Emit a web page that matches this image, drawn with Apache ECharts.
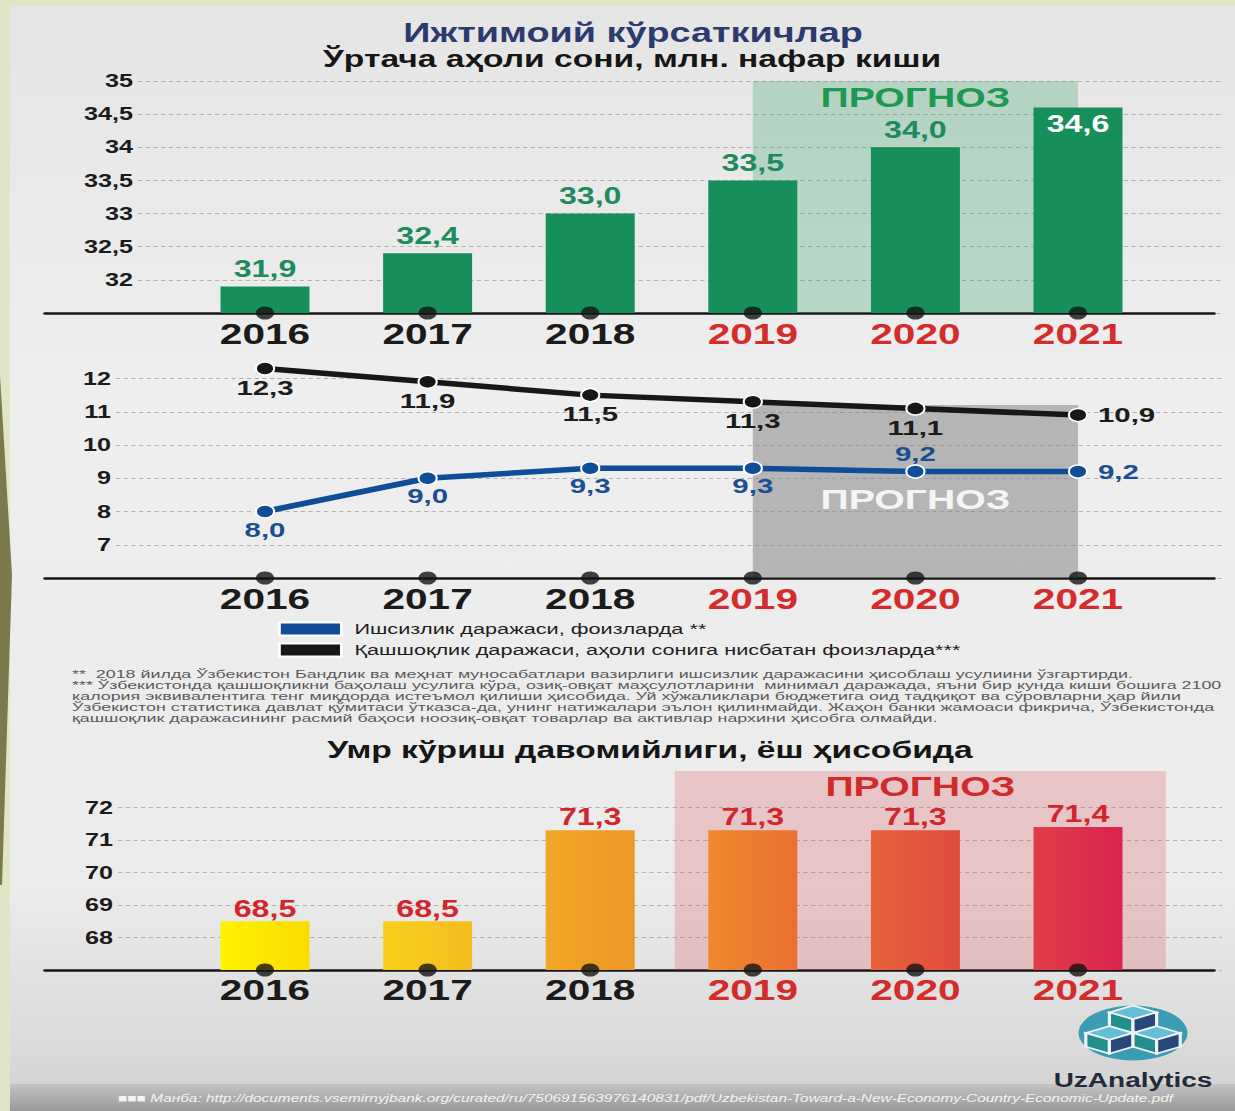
<!DOCTYPE html>
<html>
<head>
<meta charset="utf-8">
<title>Ижтимоий кўрсаткичлар</title>
<script src="https://cdn.jsdelivr.net/npm/echarts@6/dist/echarts.min.js"></script>
<style>
  html, body { margin: 0; padding: 0; overflow: hidden; }
  #page { position: relative; width: 1235px; height: 1111px; background: #e0e6c5; overflow: hidden; }
  #page .panel {
    position: absolute; left: 10px; top: 6px; right: 0; bottom: 0;
    background: linear-gradient(to bottom, #e5e5e5 0%, #eeeeee 35%, #ebebeb 80%, #d9d9d9 95%, #cfcfcf 100%);
  }
  #page .ribbon {
    position: absolute; left: 0; top: 0; width: 16px; height: 1111px; background: #7c7a4d;
    clip-path: polygon(0 375px, 12px 575px, 2px 885px, 0 885px);
  }
  #page .strip {
    position: absolute; left: 10px; right: 0; bottom: 0; height: 27px;
    background: linear-gradient(to bottom, #c3c3c3, #999999);
  }
  #chart { position: absolute; left: 0; top: 0; height: 1111px; transform-origin: 0 0; }
</style>
</head>
<body>
<div id="page">
  <div class="panel"></div>
  <div class="ribbon"></div>
  <div class="strip"></div>
  <div id="chart"></div>
</div>
<script>
// data
const years = ['2016', '2017', '2018', '2019', '2020', '2021'];
const forecastYears = ['2019', '2020', '2021'];
const population = [31.9, 32.4, 33.0, 33.5, 34.0, 34.6];      // млн. нафар киши
const unemployment = [8.0, 9.0, 9.3, 9.3, 9.2, 9.2];          // %
const poverty = [12.3, 11.9, 11.5, 11.3, 11.1, 10.9];         // %
const lifeExpectancy = [68.5, 68.5, 71.3, 71.3, 71.3, 71.4];  // ёш

// axis ranges (tick labels)
const popAxis = { min: 31.5, max: 35, interval: 0.5 };
const rateAxis = { min: 6, max: 12, interval: 1 };
const lifeAxis = { min: 67, max: 72, interval: 1 };
const lifeTop = 73.12;   // top of the pink forecast panel
const rateShadeTop = 11.2;

const unemploymentName = 'Ишсизлик даражаси, фоизларда **';
const povertyName = 'Қашшоқлик даражаси, аҳоли сонига нисбатан фоизларда***';
const footnotes = [
  '**  2018 йилда Ўзбекистон Бандлик ва меҳнат муносабатлари вазирлиги ишсизлик даражасини ҳисоблаш усулиини ўзгартирди.',
  '*** Ўзбекистонда қашшоқликни баҳолаш усулига кўра, озиқ-овқат маҳсулотларини  минимал даражада, яъни бир кунда киши бошига 2100',
  'калория эквивалентига тенг миқдорда истеъмол қилиши ҳисобида. Уй хўжаликлари бюджетига оид тадқиқот ва сўровларни ҳар йили',
  'Ўзбекистон статистика давлат қўмитаси ўтказса-да, унинг натижалари эълон қилинмайди. Жаҳон банки жамоаси фикрича, Ўзбекистонда',
  'қашшоқлик даражасининг расмий баҳоси ноозиқ-овқат товарлар ва активлар нархини ҳисобга олмайди.'
];
const source = '■■■ Манба: http://documents.vsemirnyjbank.org/curated/ru/750691563976140831/pdf/Uzbekistan-Toward-a-New-Economy-Country-Economic-Update.pdf';

// the picture is stretched sideways, so the chart is drawn narrower and scaled back out
const W = 882;
const S = 1235 / W;
const X = v => v / S;
const FONT = '"Liberation Sans", Arial, sans-serif';

const step = 162.6;                       // px between two years in the picture
const xMin = -(265 - 45) / step;
const xMax = 5 + (1214 - 1078) / step;
const fStart = years.indexOf(forecastYears[0]);
const fEnd = years.indexOf(forecastYears[forecastYears.length - 1]);

const fmt = v => v.toFixed(1).replace('.', ',');
const yearIdx = years.map((_, i) => i);

const el = document.getElementById('chart');
el.style.width = W + 'px';
el.style.transform = 'scaleX(' + S + ')';
const chart = echarts.init(el, null, { renderer: 'svg' });

function yearAxis(gridIndex, margin) {
  const rich = {
    a: { fontFamily: FONT, fontSize: 29, fontWeight: 'bold', color: '#1b1b1b' },
    f: { fontFamily: FONT, fontSize: 29, fontWeight: 'bold', color: '#d42b2b' }
  };
  return {
    type: 'value', gridIndex, min: xMin, max: xMax,
    axisLine: { lineStyle: { color: '#161616', width: 2.5 } },
    axisTick: { show: false },
    splitLine: { show: false },
    axisLabel: {
      customValues: yearIdx,
      margin,
      hideOverlap: false,
      formatter: v => {
        const y = years[Math.round(v)];
        if (!y) return '';
        return (forecastYears.includes(y) ? '{f|' : '{a|') + y + '}';
      },
      rich
    }
  };
}

function tickAxis(gridIndex, range) {
  return {
    type: 'value', gridIndex, ...range,
    axisLine: { show: false },
    axisTick: { show: false },
    axisLabel: {
      margin: X(5), color: '#1b1b1b', fontFamily: FONT, fontSize: 18, fontWeight: 'bold',
      formatter: v => (v === range.min ? '' : String(v).replace('.', ','))
    },
    splitLine: { lineStyle: { color: '#b2b2b2', width: 1, type: [3, 2.5] } }
  };
}

const hiddenY = (gridIndex, min, max) => ({ type: 'value', gridIndex, min, max, show: false });
const hiddenX = gridIndex => ({ type: 'value', gridIndex, min: 0, max: 1, show: false });

function axisDots(axisIndex, yMin) {
  return {
    type: 'scatter', xAxisIndex: axisIndex, yAxisIndex: axisIndex, silent: true, clip: false, z: 10,
    symbol: 'circle', symbolSize: 13, itemStyle: { color: '#141414' },
    data: years.map((_, i) => [i, yMin])
  };
}

const valueLabel = { show: true, fontFamily: FONT, fontSize: 23, fontWeight: 'bold' };
const prognozLabel = color => ({ show: true, color, fontFamily: FONT, fontSize: 28, fontWeight: 'bold' });

const bluePos = ['bottom', 'bottom', 'bottom', 'bottom', 'top', 'right'];
const blackPos = ['bottom', 'bottom', 'bottom', 'bottom', 'bottom', 'right'];

const lifeColors = [
  ['#fff200', '#f9dc00'], ['#f9d01d', '#f4bd1e'], ['#f2a626', '#ed9826'],
  ['#ef882d', '#e97130'], ['#e7613a', '#e14b3d'], ['#e03d47', '#db2350']
];

function lineItems(values, pos, gap) {
  return values.map((v, i) => ({
    value: [i, v],
    label: { position: pos[i], distance: pos[i] === 'right' ? 7 : gap }
  }));
}

// logo: three cubes inside a circle
const u = 13.75, h = 0.866 * u;
const logoFaces = [];
[[0, -u], [-h, u / 2], [h, u / 2]].forEach(([cx, cy]) => {
  const faces = [
    [[[cx, cy - u], [cx + h, cy - u / 2], [cx, cy], [cx - h, cy - u / 2]], '#63bfd8'],
    [[[cx - h, cy - u / 2], [cx, cy], [cx, cy + u], [cx - h, cy + u / 2]], '#21908d'],
    [[[cx, cy], [cx + h, cy - u / 2], [cx + h, cy + u / 2], [cx, cy + u]], '#27487c']
  ];
  faces.forEach(([points, fill]) => logoFaces.push({
    type: 'polygon', shape: { points }, style: { fill, stroke: '#f2f2f2', lineWidth: 1.6 }
  }));
});

const graphic = [
  {
    // the small print is wider still than the rest of the picture
    type: 'group', x: X(72), y: 0, scaleX: 1.16,
    children: footnotes.map((t, i) => ({
      type: 'text', x: 0, y: 674 + i * 11,
      style: { text: t, font: '11px ' + FONT, fill: '#5a5a5a', verticalAlign: 'middle', textVerticalAlign: 'middle' }
    }))
  },
  {
    type: 'group', x: X(1133), y: 1033, scaleX: 109 / 55 / S,
    children: [
      { type: 'circle', shape: { cx: 0, cy: 0, r: 27.5 }, style: { fill: '#3a9db4' } },
      ...logoFaces
    ]
  },
  {
    type: 'text', x: X(1133), y: 1080,
    style: {
      text: 'UzAnalytics', font: 'bold 20px ' + FONT, fill: '#222b3b',
      align: 'center', textAlign: 'center', verticalAlign: 'middle', textVerticalAlign: 'middle'
    }
  },
  {
    type: 'text', x: X(118), y: 1098,
    style: { text: source, font: 'italic 11px ' + FONT, fill: '#f4f4f4', verticalAlign: 'middle', textVerticalAlign: 'middle' }
  }
];

const titleStyle = (size, color) => ({ fontFamily: FONT, fontSize: size, lineHeight: size, fontWeight: 'bold', color });

const option = {
  animation: false,
  backgroundColor: 'transparent',
  title: [
    { text: 'Ижтимоий кўрсаткичлар', left: X(633), top: 19, textAlign: 'center', padding: 0, textStyle: titleStyle(27, '#2c3b6e') },
    { text: 'Ўртача аҳоли сони, млн. нафар киши', left: X(632), top: 47, textAlign: 'center', padding: 0, textStyle: titleStyle(24, '#161616') },
    { text: 'Умр кўриш давомийлиги, ёш ҳисобида', left: X(650), top: 738, textAlign: 'center', padding: 0, textStyle: titleStyle(24, '#161616') }
  ],
  legend: {
    data: [unemploymentName, povertyName],
    orient: 'vertical', left: X(278), top: 621, padding: 0,
    icon: 'rect', itemWidth: X(62), itemHeight: 13, itemGap: 5, selectedMode: false,
    textStyle: { fontFamily: FONT, fontSize: 15.5, color: '#1e1e1e', padding: [0, 0, 0, X(6)] }
  },
  grid: [
    { left: X(45), right: X(21), top: 81, height: 232 },
    { left: X(138), right: X(13), top: 81, height: 232 },
    { left: X(45), right: X(21), top: 378.5, height: 199.5 },
    { left: X(116), right: X(13), top: 378.5, height: 199.5 },
    { left: X(45), right: X(21), top: 771, height: 199 },
    { left: X(118), right: X(13), top: 807.5, height: 162.5 }
  ],
  xAxis: [
    yearAxis(0, 6), hiddenX(1),
    yearAxis(2, 6), hiddenX(3),
    yearAxis(4, 5), hiddenX(5)
  ],
  yAxis: [
    hiddenY(0, popAxis.min, popAxis.max), tickAxis(1, popAxis),
    hiddenY(2, rateAxis.min, rateAxis.max), tickAxis(3, rateAxis),
    hiddenY(4, lifeAxis.min, lifeTop), tickAxis(5, lifeAxis)
  ],
  graphic,
  series: [
    {
      name: 'population', type: 'bar', xAxisIndex: 0, yAxisIndex: 0,
      barWidth: X(89), itemStyle: { color: '#168f5a' },
      label: { ...valueLabel, position: 'top', distance: 6, color: '#1f8a5e', formatter: p => fmt(p.value[1]) },
      data: population.map((v, i) => i === population.length - 1
        ? { value: [i, v], label: { position: 'insideTop', color: '#ffffff', distance: 5 } }
        : { value: [i, v] }),
      markArea: {
        silent: true,
        itemStyle: { color: 'rgba(26,150,85,0.24)' },
        label: { ...prognozLabel('#1c9a52'), position: 'insideTop', distance: 2 },
        data: [[{ name: 'ПРОГНОЗ', xAxis: fStart, yAxis: popAxis.min }, { xAxis: fEnd, yAxis: popAxis.max }]]
      }
    },
    axisDots(0, popAxis.min),
    {
      name: unemploymentName, type: 'line', xAxisIndex: 2, yAxisIndex: 2, clip: false, z: 4,
      symbol: 'circle', symbolSize: 13,
      itemStyle: { color: '#0f4d96', borderColor: '#ffffff', borderWidth: 1.5 },
      lineStyle: { color: '#0f4d96', width: 5.5 },
      label: { ...valueLabel, fontSize: 21, color: '#1a4f93', formatter: p => fmt(p.value[1]) },
      data: lineItems(unemployment, bluePos, 0)
    },
    {
      name: povertyName, type: 'line', xAxisIndex: 2, yAxisIndex: 2, clip: false, z: 4,
      symbol: 'circle', symbolSize: 13,
      itemStyle: { color: '#171717', borderColor: '#ffffff', borderWidth: 1.5 },
      lineStyle: { color: '#171717', width: 5.5 },
      label: { ...valueLabel, fontSize: 21, color: '#1c1c1c', formatter: p => fmt(p.value[1]) },
      data: lineItems(poverty, blackPos, 1),
      markArea: {
        silent: true,
        itemStyle: { color: 'rgba(135,135,135,0.55)' },
        label: { ...prognozLabel('#f5f5f5'), position: 'inside', offset: [0, 8] },
        data: [[{ name: 'ПРОГНОЗ', xAxis: fStart, yAxis: rateAxis.min }, { xAxis: fEnd, yAxis: rateShadeTop }]]
      }
    },
    axisDots(2, rateAxis.min),
    {
      name: 'life', type: 'bar', xAxisIndex: 4, yAxisIndex: 4,
      barWidth: X(89),
      label: { ...valueLabel, position: 'top', distance: 1, color: '#d3262c', formatter: p => fmt(p.value[1]) },
      data: lifeExpectancy.map((v, i) => ({
        value: [i, v],
        itemStyle: {
          color: {
            type: 'linear', x: 0, y: 0, x2: 1, y2: 0,
            colorStops: [{ offset: 0, color: lifeColors[i][0] }, { offset: 1, color: lifeColors[i][1] }]
          }
        }
      })),
      markArea: {
        silent: true,
        itemStyle: { color: 'rgba(220,60,70,0.22)' },
        label: { ...prognozLabel('#d12a2a'), position: 'insideTop', distance: 1 },
        data: [[{ name: 'ПРОГНОЗ', xAxis: fStart - 0.48, yAxis: lifeAxis.min }, { xAxis: fEnd + 0.54, yAxis: lifeTop }]]
      }
    },
    axisDots(4, lifeAxis.min)
  ]
};

chart.setOption(option);
</script>
</body>
</html>
